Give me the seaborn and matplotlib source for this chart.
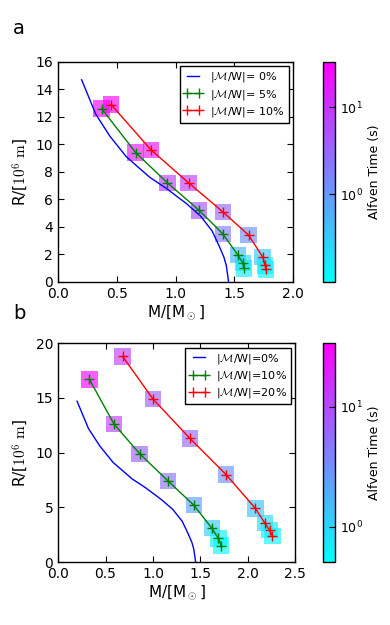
import numpy as np
import pandas as pd
import matplotlib
matplotlib.use('Agg')
import matplotlib.pyplot as plt
import seaborn as sns
from matplotlib.colors import LogNorm

# zero rotation curve (same in both panels)
m_0 = [0.20, 0.32, 0.44, 0.58, 0.78, 0.92, 1.09, 1.21, 1.31, 1.37, 1.41, 1.43, 1.44, 1.45]
r_0 = [14.7, 12.2, 10.6, 9.1, 7.6, 6.8, 5.7, 4.8, 3.7, 2.6, 1.8, 1.2, 0.6, 0.0]

# panel a
m_a5 = [0.37, 0.66, 0.93, 1.20, 1.40, 1.53, 1.57, 1.58]
r_a5 = [12.6, 9.4, 7.2, 5.2, 3.5, 1.94, 1.39, 0.98]
t_a5 = [30, 20, 8, 5, 2, 0.5, 0.25, 0.15]
m_a10 = [0.45, 0.79, 1.11, 1.40, 1.62, 1.74, 1.76, 1.77]
r_a10 = [12.9, 9.6, 7.2, 5.1, 3.4, 1.81, 1.2, 0.91]
t_a10 = [30, 18, 8, 3, 1.2, 0.35, 0.2, 0.12]
labels_a = ['|$\\mathcal{M}$/W|= 0%', '|$\\mathcal{M}$/W|= 5%', '|$\\mathcal{M}$/W|= 10%']

# panel b
m_b10 = [0.33, 0.59, 0.86, 1.16, 1.43, 1.62, 1.69, 1.72]
r_b10 = [16.7, 12.6, 9.9, 7.4, 5.2, 3.1, 2.15, 1.5]
t_b10 = [30, 12, 7, 5, 2.5, 1.2, 0.7, 0.55]
m_b20 = [0.68, 1.00, 1.39, 1.77, 2.08, 2.18, 2.23, 2.26]
r_b20 = [18.8, 14.9, 11.3, 8.0, 4.9, 3.55, 2.9, 2.4]
t_b20 = [12, 7, 6, 3, 1.3, 0.9, 0.7, 0.6]
labels_b = ['|$\\mathcal{M}$/W|=0%', '|$\\mathcal{M}$/W|=10%', '|$\\mathcal{M}$/W|=20%']

plt.rcParams['mathtext.fontset'] = 'cm'
plt.rcParams['xtick.direction'] = 'in'
plt.rcParams['ytick.direction'] = 'in'
plt.rcParams['xtick.top'] = True
plt.rcParams['ytick.right'] = True
plt.rcParams['font.family'] = ['DejaVu Sans']

fig = plt.figure(figsize=(3.9, 6.25), dpi=100)
ax_a = fig.add_axes([0.149, 0.549, 0.603, 0.352])
cax_a = fig.add_axes([0.828, 0.549, 0.031, 0.352])
ax_b = fig.add_axes([0.149, 0.1008, 0.608, 0.350])
cax_b = fig.add_axes([0.828, 0.1008, 0.031, 0.350])


def panel(ax, cax, m1, r1, t1, m2, r2, t2, labels, norm, xmax, ymax, xt, yt):
    tau = pd.DataFrame({'M': m1 + m2, 'R': r1 + r2, 'tau': t1 + t2})
    sns.scatterplot(data=tau, x='M', y='R', hue='tau', hue_norm=norm, palette='cool',
                    marker='s', s=140, alpha=0.65, linewidth=0, legend=False, ax=ax, zorder=1)
    sns.lineplot(x=m_0, y=r_0, sort=False, estimator=None, color='blue', lw=1,
                 legend=False, ax=ax, zorder=2)
    sns.lineplot(x=m1, y=r1, sort=False, estimator=None, color='green', lw=1, marker='+', ms=7,
                 mew=1, mec='green', legend=False, ax=ax, zorder=3)
    sns.lineplot(x=m2, y=r2, sort=False, estimator=None, color='red', lw=1, marker='+', ms=7,
                 mew=1, mec='red', legend=False, ax=ax, zorder=3)
    ax.set_xlim(0, xmax)
    ax.set_ylim(0, ymax)
    ax.set_xticks(xt)
    ax.set_yticks(yt)
    ax.set_xticklabels(['%.1f' % v for v in xt])
    ax.tick_params(labelsize=10, length=4)
    ax.set_xlabel(r'M/[M$_\odot$]', fontsize=11, labelpad=2)
    ax.set_ylabel(r'R/[$10^6\ \mathrm{m}$]', fontsize=11)
    for s in ax.spines.values():
        s.set_linewidth(1)
        s.set_color('black')
    leg = ax.legend(handles=ax.lines[-3:], labels=labels, loc='upper right', fontsize=8,
                    fancybox=False, framealpha=1, edgecolor='black', numpoints=2,
                    handlelength=1.7, labelspacing=0.3, borderpad=0.35,
                    handletextpad=0.7, borderaxespad=0.4)
    leg.get_frame().set_linewidth(1)

    sm = plt.cm.ScalarMappable(norm=norm, cmap='cool')
    cb = fig.colorbar(sm, cax=cax, ticks=[1, 10])
    cb.set_label('Alfven Time (s)', fontsize=9)
    cb.ax.tick_params(labelsize=9, which='major', direction='in', length=4)
    cb.ax.minorticks_off()
    cb.outline.set_linewidth(1)


panel(ax_a, cax_a, m_a5, r_a5, t_a5, m_a10, r_a10, t_a10, labels_a,
      LogNorm(0.098, 33), 2.0, 16, [0.0, 0.5, 1.0, 1.5, 2.0], range(0, 17, 2))
panel(ax_b, cax_b, m_b10, r_b10, t_b10, m_b20, r_b20, t_b20, labels_b,
      LogNorm(0.51, 34), 2.5, 20, [0.0, 0.5, 1.0, 1.5, 2.0, 2.5], range(0, 21, 5))

fig.text(0.033, 0.955, 'a', fontsize=14, va='center')
fig.text(0.033, 0.499, 'b', fontsize=14, va='center')

fig.savefig('out.png', dpi=100)
